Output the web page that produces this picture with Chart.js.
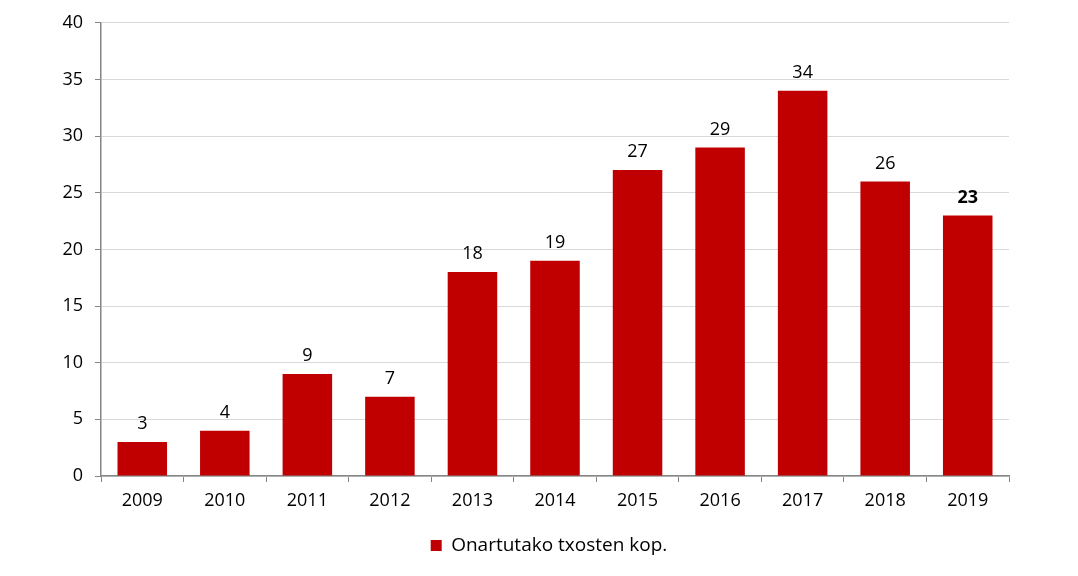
<!DOCTYPE html>
<html>
<head>
<meta charset="utf-8">
<script src="https://cdn.jsdelivr.net/npm/chart.js@4"></script>
<style>
  html, body { margin: 0; padding: 0; background: #fff; }
  #wrap { width: 1078px; height: 576px; }
</style>
</head>
<body>
<div id="wrap"><canvas id="chart" width="1078" height="576"></canvas></div>
<script>
const years = ['2009', '2010', '2011', '2012', '2013', '2014', '2015', '2016', '2017', '2018', '2019'];
const reports = [3, 4, 9, 7, 18, 19, 27, 29, 34, 26, 23];
const yTicks = [0, 5, 10, 15, 20, 25, 30, 35, 40];
const seriesName = 'Onartutako txosten kop.';

const FONT = "'Open Sans', sans-serif";

// value labels above each bar, last one bold
const barLabels = {
    id: 'barLabels',
    afterDatasetsDraw(chart) {
        const ctx = chart.ctx;
        const meta = chart.getDatasetMeta(0);
        ctx.save();
        ctx.fillStyle = '#000';
        ctx.textAlign = 'center';
        ctx.textBaseline = 'bottom';
        meta.data.forEach((bar, i) => {
            const last = i === meta.data.length - 1;
            ctx.font = (last ? 'bold ' : '') + '18px ' + FONT;
            ctx.fillText(String(reports[i]), bar.x, bar.y - 9);
        });
        ctx.restore();
    }
};

new Chart(document.getElementById('chart'), {
    type: 'bar',
    data: {
        labels: years,
        datasets: [{
            label: seriesName,
            data: reports,
            backgroundColor: '#c00000',
            borderWidth: 0,
            barPercentage: 0.6,
            categoryPercentage: 1.0
        }]
    },
    options: {
        responsive: false,
        animation: false,
        devicePixelRatio: 1,
        layout: { padding: { left: 20, right: 0, top: 22, bottom: 11 } },
        plugins: {
            legend: {
                position: 'bottom',
                labels: {
                    boxWidth: 11,
                    boxHeight: 11,
                    color: '#000',
                    padding: 8,
                    font: { family: FONT, size: 19 }
                }
            },
            tooltip: { enabled: false }
        },
        scales: {
            x: {
                afterFit(scale) { scale.height = 52; },
                grid: {
                    offset: true,
                    drawOnChartArea: false,
                    tickLength: 6,
                    tickColor: '#868686'
                },
                border: { color: '#868686', width: 1.5 },
                ticks: { color: '#000', padding: 8, font: { family: FONT, size: 18 } }
            },
            y: {
                min: 0,
                max: 40,
                afterFit(scale) { scale.width = 81; },
                afterBuildTicks(scale) { scale.ticks = yTicks.map(v => ({ value: v })); },
                grid: {
                    color: '#d9d9d9',
                    tickLength: 6,
                    tickColor: '#868686'
                },
                border: { color: '#868686', width: 1.5 },
                ticks: { color: '#000', padding: 12, font: { family: FONT, size: 18 } }
            },
            // empty right margin so the legend centres like the original
            yr: {
                position: 'right',
                afterFit(scale) { scale.width = 69; },
                grid: { display: false },
                border: { display: false },
                ticks: { display: false }
            }
        }
    },
    plugins: [barLabels]
});
</script>
</body>
</html>
